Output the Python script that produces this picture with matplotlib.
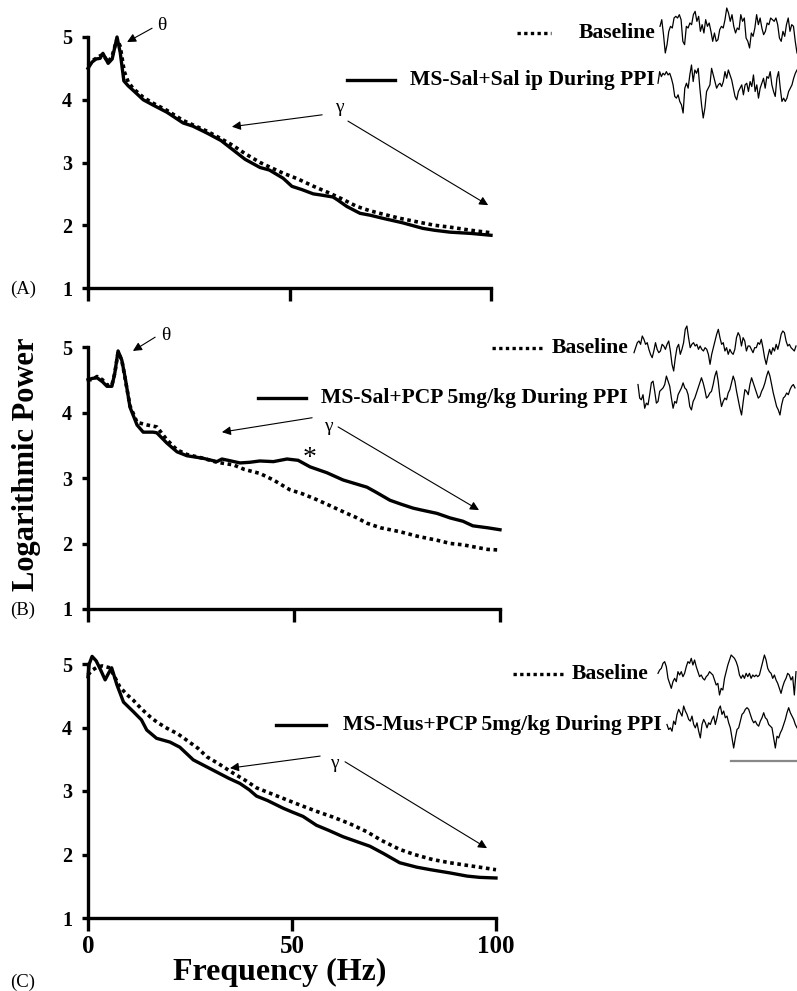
import matplotlib
matplotlib.use("Agg")
import matplotlib.pyplot as plt
from matplotlib.lines import Line2D

plt.rcParams['font.family'] = ['Liberation Serif', 'DejaVu Serif']

# ---- power spectra (Hz, log power) ----
a_sol_x = [0, 1, 2, 3, 3.7, 5, 6, 7.2, 8, 8.9, 10, 11.2, 13.7, 16, 19.6, 23.6, 26, 29.5, 33, 36, 39, 42.7,
           45, 48.4, 50.6, 53, 55.9, 58, 60.8, 62, 64.2, 67.5, 70, 73.2, 78, 83.1, 86, 89.8, 95, 100]
a_sol_y = [4.5, 4.6, 4.65, 4.66, 4.74, 4.58, 4.65, 5.0, 4.75, 4.3, 4.22, 4.15, 4.0, 3.92, 3.8, 3.63, 3.58,
           3.47, 3.35, 3.2, 3.05, 2.92, 2.88, 2.75, 2.62, 2.57, 2.5, 2.48, 2.45, 2.4, 2.3, 2.19, 2.16, 2.11,
           2.04, 1.95, 1.92, 1.89, 1.87, 1.84]
a_base_x = [0, 1, 2, 3, 3.7, 5, 6, 7.2, 8, 9, 10, 11.2, 13.7, 16, 19.6, 23.6, 26, 29.5, 33, 36, 39, 42.7,
            45, 48.4, 52, 56, 60, 63, 66.7, 70, 73, 77.4, 82, 86, 89.8, 95, 100]
a_base_y = [4.55, 4.62, 4.66, 4.7, 4.72, 4.6, 4.7, 4.97, 4.85, 4.45, 4.28, 4.18, 4.04, 3.95, 3.83, 3.67,
            3.6, 3.5, 3.38, 3.27, 3.14, 3.0, 2.93, 2.83, 2.74, 2.62, 2.51, 2.42, 2.3, 2.23, 2.18, 2.11,
            2.05, 2.0, 1.97, 1.92, 1.88]

b_sol_x = [0, 1, 2.2, 3.5, 4.6, 5.8, 6.5, 7.3, 8.2, 9, 10.2, 11.9, 13.4, 15.8, 16.7, 19.2, 21.6, 24, 28,
           31.3, 32.5, 34, 36.9, 39.3, 41.7, 45, 48.3, 51, 53.9, 58, 61.9, 64, 67.7, 70, 73.3, 76, 78.9,
           81, 84.7, 87.9, 91, 93.4, 97, 100]
b_sol_y = [4.5, 4.52, 4.53, 4.47, 4.4, 4.4, 4.6, 4.94, 4.8, 4.54, 4.08, 3.81, 3.7, 3.7, 3.69, 3.53, 3.4,
           3.34, 3.3, 3.25, 3.29, 3.27, 3.23, 3.24, 3.26, 3.25, 3.29, 3.27, 3.17, 3.08, 2.97, 2.93, 2.86,
           2.78, 2.66, 2.6, 2.54, 2.51, 2.46, 2.39, 2.34, 2.27, 2.24, 2.21]
b_base_x = [0, 1, 2.2, 3.5, 4.6, 5.8, 6.5, 7.3, 8.2, 9, 10.2, 11.9, 14.3, 16.7, 19.2, 21.6, 24, 28, 31.3,
            35.3, 38, 41.7, 45, 49, 52, 55.5, 59, 62.8, 65, 67.7, 71, 75.7, 80, 84.7, 88, 91, 94.4, 97, 100]
b_base_y = [4.5, 4.5, 4.55, 4.5, 4.42, 4.42, 4.6, 4.92, 4.8, 4.52, 4.1, 3.85, 3.81, 3.78, 3.58, 3.43,
            3.36, 3.3, 3.24, 3.2, 3.13, 3.07, 2.97, 2.82, 2.76, 2.67, 2.57, 2.46, 2.4, 2.31, 2.24, 2.18,
            2.11, 2.05, 2.0, 1.98, 1.94, 1.91, 1.9]

c_sol_x = [0, 0.3, 1, 2, 3, 4.2, 5, 5.8, 7.1, 8.7, 11.1, 13.1, 14.4, 16.8, 20.1, 22.5, 25.8, 28.5, 31.5,
           34.5, 37.2, 39.5, 41.3, 44, 47.8, 50, 52.7, 56, 59, 62.5, 66, 69.1, 72.3, 76.4, 80.6, 84,
           88.7, 92.9, 96, 100]
c_sol_y = [4.8, 5.0, 5.12, 5.05, 4.92, 4.75, 4.85, 4.94, 4.67, 4.4, 4.25, 4.12, 3.96, 3.83, 3.77, 3.69,
           3.49, 3.4, 3.3, 3.2, 3.12, 3.02, 2.92, 2.85, 2.73, 2.67, 2.6, 2.46, 2.38, 2.28, 2.2, 2.13,
           2.02, 1.87, 1.8, 1.76, 1.71, 1.66, 1.64, 1.63]
c_base_x = [0, 1, 2.2, 3.5, 5.4, 6.5, 7.8, 9.5, 11.1, 13, 15.2, 17, 19.3, 22, 24.2, 27, 29.1, 32, 35.6,
            38.5, 41.3, 46, 51.9, 56, 60, 64, 68.3, 72, 76.4, 80, 84.5, 88.7, 92.8, 96, 100]
c_base_y = [4.83, 4.9, 4.95, 4.97, 4.94, 4.8, 4.64, 4.52, 4.43, 4.3, 4.17, 4.08, 3.99, 3.9, 3.8, 3.67,
            3.54, 3.43, 3.28, 3.17, 3.05, 2.93, 2.78, 2.68, 2.59, 2.49, 2.36, 2.22, 2.08, 2.0, 1.92,
            1.87, 1.83, 1.8, 1.76]

# ---- example EEG traces (amplitude, screen units, down = positive) ----
eeg_a_base = [65, 45, 90, 145, 120, 80, 65, 70, 40, 35, 40, 30, 45, 110, 120, 65, 70, 55, 60, 30, 20, 50,
              35, 80, 60, 85, 45, 65, 55, 80, 110, 85, 110, 105, 75, 65, 70, 45, 10, 25, 50, 30, 65, 85,
              70, 75, 30, 50, 40, 100, 110, 130, 85, 95, 70, 30, 60, 40, 70, 90, 80, 55, 60, 40, 45, 50,
              40, 60, 100, 110, 80, 95, 60, 40, 80, 60, 65, 110, 145]
eeg_a_ppi = [235, 200, 215, 205, 210, 200, 210, 205, 220, 240, 275, 280, 270, 290, 300, 325, 250, 235, 250,
             210, 180, 230, 195, 205, 190, 250, 300, 340, 310, 260, 250, 240, 190, 210, 230, 250, 240, 235,
             245, 230, 200, 220, 195, 210, 225, 250, 275, 285, 260, 250, 240, 270, 240, 235, 260, 230, 245,
             210, 260, 240, 280, 250, 235, 220, 250, 215, 220, 200, 240, 260, 275, 220, 200, 250, 290, 280,
             290, 280, 260, 250, 240, 220, 205, 195]
eeg_b_base = [105, 90, 75, 70, 80, 55, 65, 80, 75, 95, 110, 120, 100, 75, 95, 105, 100, 80, 85, 95, 80, 70,
              100, 140, 160, 120, 90, 80, 110, 95, 75, 35, 25, 60, 90, 80, 75, 85, 80, 95, 85, 95, 100, 90,
              95, 110, 140, 110, 90, 70, 50, 35, 60, 80, 75, 100, 90, 110, 95, 105, 110, 95, 60, 45, 55, 85,
              60, 70, 100, 85, 85, 95, 105, 90, 90, 75, 80, 65, 90, 120, 140, 115, 95, 110, 90, 100, 80, 95,
              75, 50, 40, 45, 70, 85, 80, 90, 95, 100, 85]
eeg_b_ppi = [200, 240, 245, 230, 270, 255, 260, 230, 195, 190, 220, 255, 250, 220, 215, 210, 200, 175, 190,
             205, 240, 270, 250, 255, 230, 220, 210, 195, 210, 215, 230, 265, 275, 250, 240, 225, 210, 195,
             180, 195, 215, 240, 235, 225, 220, 200, 175, 160, 190, 235, 265, 250, 240, 245, 225, 215, 195,
             175, 190, 220, 245, 270, 290, 250, 215, 220, 230, 200, 180, 195, 210, 225, 240, 235, 220, 210,
             195, 175, 160, 175, 200, 225, 245, 265, 275, 290, 260, 240, 235, 225, 230, 215, 205, 200, 210]
eeg_c_base = [75, 65, 60, 45, 40, 55, 90, 105, 120, 100, 90, 100, 70, 80, 70, 85, 75, 55, 40, 45, 30, 50,
              35, 55, 70, 85, 80, 90, 95, 85, 80, 70, 75, 80, 95, 110, 105, 140, 120, 125, 90, 70, 50, 35,
              20, 25, 30, 40, 55, 80, 90, 80, 90, 75, 85, 75, 90, 80, 85, 80, 85, 80, 60, 40, 20, 35, 60,
              70, 75, 90, 80, 95, 105, 120, 135, 115, 100, 90, 75, 80, 95, 85, 140, 70]
eeg_c_ppi = [230, 245, 240, 250, 220, 230, 200, 185, 195, 205, 175, 190, 200, 215, 220, 205, 230, 240, 225,
             250, 270, 230, 215, 225, 240, 225, 230, 215, 205, 230, 210, 185, 175, 200, 190, 210, 205, 225,
             240, 270, 300, 270, 245, 240, 220, 200, 195, 185, 180, 185, 200, 215, 225, 220, 230, 235, 220,
             210, 195, 210, 215, 230, 235, 240, 270, 300, 265, 270, 255, 245, 230, 215, 195, 180, 195, 205,
             215, 230, 240]

panel_tags = ['(A)', '(B)', '(C)']
ppi_labels = ['MS-Sal+Sal ip During PPI', 'MS-Sal+PCP 5mg/kg During PPI', 'MS-Mus+PCP 5mg/kg During PPI']

W, H = 797, 991
fig = plt.figure(figsize=(W / 100, H / 100), dpi=100)


def box(x0, y0, x1, y1):
    # pixel box (top-left origin) -> figure fraction rect
    return [x0 / W, 1 - y1 / H, (x1 - x0) / W, (y1 - y0) / H]


def fx(x):
    return x / W


def fy(y):
    return 1 - y / H


def panel(rect, bx, by, sx, sy, xlabels):
    ax = fig.add_axes(rect)
    ax.plot(bx, by, color='black', lw=2.6, ls=(0, (1, 1)), clip_on=False)
    ax.plot(sx, sy, color='black', lw=2.4, clip_on=False)
    ax.set_xlim(0, 100)
    ax.set_ylim(1, 5)
    ax.set_yticks([1, 2, 3, 4, 5])
    ax.set_xticks([0, 50, 100])
    for s in ['top', 'right']:
        ax.spines[s].set_visible(False)
    for s in ['left', 'bottom']:
        ax.spines[s].set_linewidth(2.4)
    ax.tick_params(axis='y', direction='out', length=4.5, width=2.4, labelsize=14.5, pad=7)
    ax.tick_params(axis='x', direction='out', length=9.5, width=2.4, labelsize=18, pad=3)
    for t in ax.get_yticklabels():
        t.set_fontweight('bold')
    if xlabels:
        for t in ax.get_xticklabels():
            t.set_fontweight('bold')
    else:
        ax.set_xticklabels([])
    return ax


def arrow(ax, start, end):
    ax.annotate('', xy=end, xytext=start,
                arrowprops=dict(arrowstyle='-|>', color='black', lw=0.8, mutation_scale=13,
                                shrinkA=0, shrinkB=0))


def trace(vals, x0, y0, x1, y1):
    t = fig.add_axes(box(x0, y0, x1, y1))
    t.plot(range(len(vals)), vals, color='black', lw=0.9, clip_on=False)
    t.set_xlim(0, len(vals) - 1)
    t.set_ylim(max(vals), min(vals))
    t.axis('off')


# panel A
axA = panel(box(88, 37, 491, 288), a_base_x, a_base_y, a_sol_x, a_sol_y, False)
axA.text(18.4, 5.19, '\u03b8', fontsize=14, ha='center', va='center')
arrow(axA, (15.9, 5.14), (9.7, 4.92))
axA.text(62.5, 3.88, '\u03b3', fontsize=14, ha='center', va='center')
arrow(axA, (58.1, 3.76), (35.7, 3.57))
arrow(axA, (64.5, 3.66), (99.3, 2.32))

# panel B
axB = panel(box(88, 347, 500, 609), b_base_x, b_base_y, b_sol_x, b_sol_y, False)
axB.text(18.9, 5.18, '\u03b8', fontsize=14, ha='center', va='center')
arrow(axB, (16.3, 5.15), (10.9, 4.94))
axB.text(58.3, 3.78, '\u03b3', fontsize=14, ha='center', va='center')
arrow(axB, (54.4, 3.92), (32.5, 3.70))
arrow(axB, (60.7, 3.78), (94.9, 2.51))
axB.text(53.9, 3.30, '*', fontsize=20, ha='center', va='center')

# panel C
axC = panel(box(88, 664, 496, 918), c_base_x, c_base_y, c_sol_x, c_sol_y, True)
axC.text(60.5, 3.44, '\u03b3', fontsize=14, ha='center', va='center')
arrow(axC, (56.9, 3.55), (34.8, 3.36))
arrow(axC, (63.0, 3.46), (97.8, 2.10))

# legends (drawn in figure space)
legend_rows = [
    # dotted x0, x1, y, baseline text right, solid x0, x1, y, ppi text right
    (517, 551, 33, 655, 347, 395, 80, 655),
    (492, 542, 348, 628, 258, 306, 398, 628),
    (513, 566, 674, 648, 276, 326, 725, 662),
]
for (d0, d1, dy, br, s0, s1, sy, pr), lab in zip(legend_rows, ppi_labels):
    fig.add_artist(Line2D([fx(d0), fx(d1)], [fy(dy), fy(dy)], color='black', lw=2.4,
                          ls=(0, (1, 1)), transform=fig.transFigure))
    fig.text(fx(br), fy(dy), 'Baseline', fontsize=15.6, fontweight='bold', ha='right', va='center')
    fig.add_artist(Line2D([fx(s0), fx(s1)], [fy(sy), fy(sy)], color='black', lw=2.4,
                          transform=fig.transFigure))
    fig.text(fx(pr), fy(sy), lab, fontsize=15.6, fontweight='bold', ha='right', va='center')

# EEG sample traces
trace(eeg_a_base, 660, 8, 797, 53)
trace(eeg_a_ppi, 658, 65, 797, 118)
trace(eeg_b_base, 634, 326, 796, 371)
trace(eeg_b_ppi, 638, 371, 795, 415)
trace(eeg_c_base, 658, 655, 796, 695)
trace(eeg_c_ppi, 667, 706, 797, 748)
fig.add_artist(Line2D([fx(731), fx(797)], [fy(761), fy(761)], color='#888888', lw=1.6,
                      transform=fig.transFigure))

# panel tags and shared axis labels
for tag, y in zip(panel_tags, [289, 610, 982]):
    fig.text(fx(23), fy(y), tag, fontsize=13.5, ha='center', va='center')
fig.text(fx(27), fy(464), 'Logarithmic Power', fontsize=22, fontweight='bold', rotation=90,
         ha='center', va='center')
fig.text(fx(280), fy(972), 'Frequency (Hz)', fontsize=23, fontweight='bold', ha='center', va='center')

fig.savefig('out.png', dpi=100)
